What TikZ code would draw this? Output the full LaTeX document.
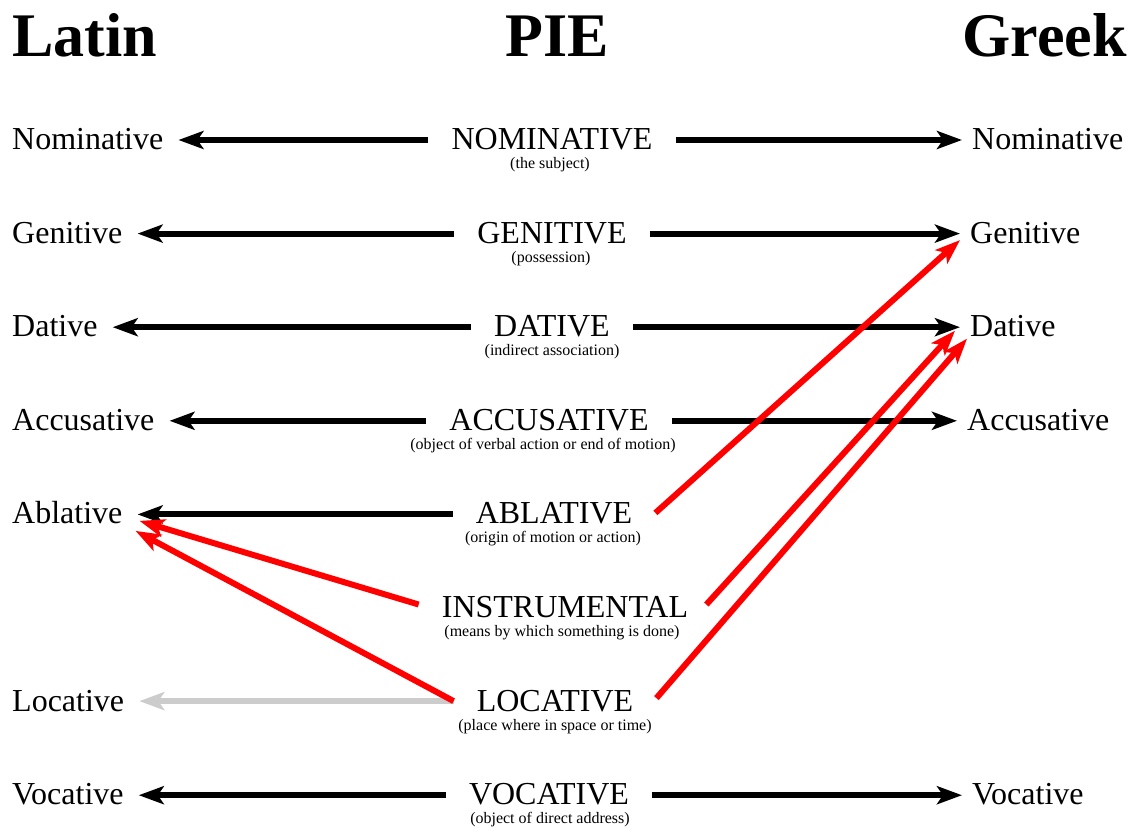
\documentclass[tikz,border=0pt]{standalone}
\usepackage{fontspec}
\setmainfont{Liberation Serif}
\usetikzlibrary{arrows.meta,calc}
\tikzset{
  title/.style={font=\fontsize{62}{62}\selectfont\bfseries, inner sep=0pt},
  lat/.style={font=\fontsize{32}{32}\selectfont, anchor=base west, inner xsep=15pt, inner ysep=0pt},
  grk/.style={font=\fontsize{32}{32}\selectfont, anchor=base west, inner xsep=10pt, inner ysep=0pt},
  pie/.style={font=\fontsize{32}{32}\selectfont, anchor=base, inner xsep=23pt, inner ysep=0pt},
  sub/.style={font=\fontsize{16}{16}\selectfont, anchor=base, inner sep=0pt},
  arr/.style={line width=6pt, -{Stealth[length=25pt,width=18pt,inset=6pt]}},
  blkarr/.style={arr, draw=black},
  redarr/.style={arr, draw=red},
  gryarr/.style={arr, draw=black!20},
}
\begin{document}
\begin{tikzpicture}[x=1pt,y=-1pt]
\useasboundingbox (0,0) rectangle (1132,827);
% titles
\node[title, anchor=base west] (tLat) at (12,56) {Latin};
\node[title, anchor=base] (tPie) at (557.5,56) {PIE};
\node[title, anchor=base east] (tGrk) at (1127,56) {Greek};
% Latin
\node[lat] (l1) at (-3,149.5) {Nominative};
\node[lat] (l2) at (-3,243.1) {Genitive};
\node[lat] (l3) at (-3,336.7) {Dative};
\node[lat] (l4) at (-3,430.3) {Accusative};
\node[lat] (l5) at (-3,523.9) {Ablative};
\node[lat] (l7) at (-3,711.1) {Locative};
\node[lat] (l8) at (-3,804.7) {Vocative};
% Greek
\node[grk] (g1) at (962,149.5) {Nominative};
\node[grk] (g2) at (960,243.1) {Genitive};
\node[grk] (g3) at (960,336.7) {Dative};
\node[grk] (g4) at (957,430.3) {Accusative};
\node[grk] (g8) at (962,804.7) {Vocative};
% PIE
\node[pie] (p1) at (552,149.5) {NOMINATIVE};
\node[pie] (p2) at (552,243.1) {GENITIVE};
\node[pie] (p3) at (552,336.7) {DATIVE};
\node[pie] (p4) at (549,430.3) {ACCUSATIVE};
\node[pie] (p5) at (554,523.9) {ABLATIVE};
\node[pie] (p6) at (565,617.5) {INSTRUMENTAL};
\node[pie] (p7) at (555,711.1) {LOCATIVE};
\node[pie] (p8) at (549,804.7) {VOCATIVE};
% subtitles
\node[sub] (s1) at (550,168.5) {(the subject)};
\node[sub] (s2) at (551,262.1) {(possession)};
\node[sub] (s3) at (552,355.7) {(indirect association)};
\node[sub] (s4) at (543,449.3) {(object of verbal action or end of motion)};
\node[sub] (s5) at (553,542.9) {(origin of motion or action)};
\node[sub] (s6) at (562,636.5) {(means by which something is done)};
\node[sub] (s7) at (555,730.1) {(place where in space or time)};
\node[sub] (s8) at (550,823.7) {(object of direct address)};
% black arrows
\foreach \i in {1,2,3,4,5,8} {
  \draw[blkarr] ([yshift=9.5pt]p\i.base west) -- ([yshift=9.5pt]l\i.base east);
}
\foreach \i in {1,2,3,4,8} {
  \draw[blkarr] ([yshift=9.5pt]p\i.base east) -- ([yshift=9.5pt]g\i.base west);
}
% grey arrow
\draw[gryarr] ([yshift=10pt]p7.base west) -- ([yshift=10pt]l7.base east);
% red arrows
\draw[redarr] ([yshift=11pt]p5.base east) -- ([yshift=3pt]g2.base west);
\draw[redarr] ([yshift=13pt,xshift=-5pt]p6.base east) -- ([xshift=-5pt,yshift=6pt]g3.base west);
\draw[redarr] ([yshift=13pt]p7.base east) -- ([xshift=7pt,yshift=-2pt]g3.base west);
\draw[redarr] ([yshift=13pt]p6.base west) -- ([xshift=2pt,yshift=3pt]l5.base east);
\draw[redarr] ([yshift=10pt]p7.base west) -- ([xshift=-2pt,yshift=-7pt]l5.base east);
\end{tikzpicture}
\end{document}
